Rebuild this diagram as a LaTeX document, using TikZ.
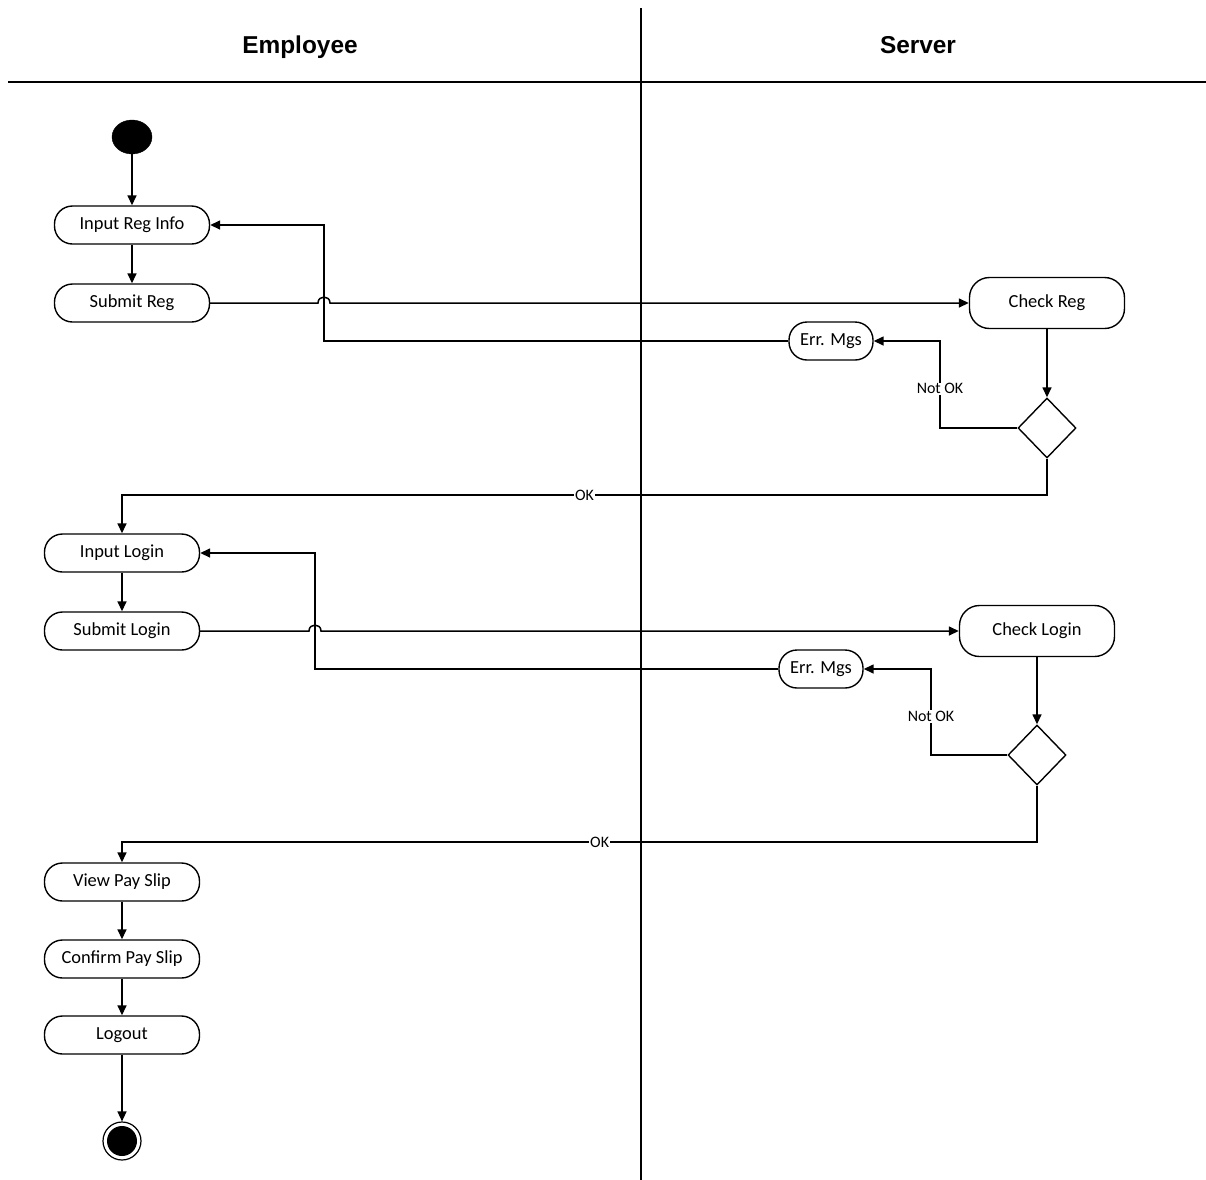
\documentclass[tikz,border=0pt]{standalone}
\usepackage{fontspec}
\setmainfont{Carlito}
\newfontfamily\hdrfont{Liberation Sans}
\usetikzlibrary{shapes.geometric,arrows.meta,calc}
\begin{document}
\begin{tikzpicture}[x=1bp,y=-1bp,
  act/.style={draw,line width=1.4bp,rounded corners=18bp,minimum width=155bp,minimum height=38bp,inner sep=0pt,font=\fontsize{18.5}{21}\selectfont},
  bigact/.style={act,minimum height=51bp,rounded corners=20bp},
  errbox/.style={act,minimum width=84bp},
  dec/.style={draw,diamond,line width=1.4bp,minimum width=58bp,minimum height=60bp,inner sep=0pt},
  flow/.style={line width=1.5bp,-{Triangle[length=10bp,width=9bp]}},
  lbl/.style={fill=white,inner sep=1pt,font=\fontsize{16}{18}\selectfont},
  lane/.style={line width=1.5bp},
  hdr/.style={anchor=base,font=\hdrfont\bfseries\fontsize{24.5}{28}\selectfont}]
\useasboundingbox (0,0) rectangle (1206,1180);
% swimlanes
\coordinate (vt) at (641,8);
\coordinate (vb) at (641,1180);
\coordinate (hl) at (8,82);
\coordinate (hr) at (1206,82);
\draw[lane] (vt) -- (vb);
\draw[lane] (hl) -- (hr);
\node[hdr] (hemp) at (300,53) {Employee};
\node[hdr] (hsrv) at (918,53) {Server};
% nodes
\node[draw,fill=black,ellipse,minimum width=40bp,minimum height=34bp,inner sep=0pt] (start) at (132,137) {};
\node[act] (irg) at (132,225) {Input Reg Info};
\node[act] (srg) at (132,303) {Submit Reg};
\node[bigact] (crg) at (1047,303) {Check Reg};
\node[errbox] (err1) at (831,341) {Err. Mgs};
\node[dec] (d1) at (1047,428) {};
\node[act] (ilg) at (122,553) {Input Login};
\node[act] (slg) at (122,631) {Submit Login};
\node[bigact] (clg) at (1037,631) {Check Login};
\node[errbox] (err2) at (821,669) {Err. Mgs};
\node[dec] (d2) at (1037,755) {};
\node[act] (vps) at (122,882) {View Pay Slip};
\node[act] (cps) at (122,959) {Confirm Pay Slip};
\node[act] (lgo) at (122,1035) {Logout};
\node[draw,circle,line width=1.2bp,minimum size=38bp,inner sep=0pt] (end) at (122,1141) {};
\fill (end.center) circle (15bp);
% helper coordinates
\coordinate (l1) at (324,341);
\coordinate (n1) at (940,428);
\coordinate (ok1) at (1047,495);
\coordinate (l2) at (315,669);
\coordinate (n2) at (931,755);
\coordinate (ok2) at (1037,842);
% flows
\draw[flow] (start) -- (irg);
\draw[flow] (irg) -- (srg);
\draw[flow] (srg.east) -- (318,303) .. controls (318,295) and (330,295) .. (330,303) -- (crg.west);
\draw[flow] (crg.south) -- (d1.north);
\draw[flow] (d1.west) -- (n1) -- node[lbl,pos=0.45]{Not OK} (n1 |- err1.east) -- (err1.east);
\draw[flow] (err1.west) -- (l1) |- (irg.east);
\draw[flow] (d1.south) -- (ok1) -- node[lbl,pos=0.5]{OK} (ok1 -| ilg.north) -- (ilg.north);
\draw[flow] (ilg) -- (slg);
\draw[flow] (slg.east) -- (309,631) .. controls (309,623) and (321,623) .. (321,631) -- (clg.west);
\draw[flow] (clg.south) -- (d2.north);
\draw[flow] (d2.west) -- (n2) -- node[lbl,pos=0.45]{Not OK} (n2 |- err2.east) -- (err2.east);
\draw[flow] (err2.west) -- (l2) |- (ilg.east);
\draw[flow] (d2.south) -- (ok2) -- node[lbl,pos=0.478]{OK} (ok2 -| vps.north) -- (vps.north);
\draw[flow] (vps) -- (cps);
\draw[flow] (cps) -- (lgo);
\draw[flow] (lgo) -- (end);
\end{tikzpicture}
\end{document}
